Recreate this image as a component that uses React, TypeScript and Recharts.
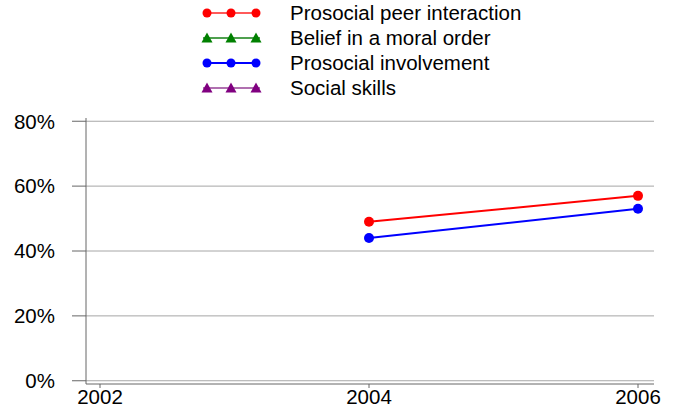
import React from 'react'
import {
  LineChart,
  Line,
  XAxis,
  YAxis,
  CartesianGrid
} from 'recharts'

const years = [2002, 2004, 2006]
const peerInteraction = [null, 49, 57]
const moralOrder = [null, null, null]
const involvement = [null, 44, 53]
const socialSkills = [null, null, null]
const yTicks = [0, 20, 40, 60, 80]

const series = [
  { key: 'peer', name: 'Prosocial peer interaction', color: '#ff0000', legendLine: '#ff5a5a', shape: 'circle' },
  { key: 'moral', name: 'Belief in a moral order', color: '#008000', legendLine: '#4fa04f', shape: 'triangle' },
  { key: 'involve', name: 'Prosocial involvement', color: '#0000ff', legendLine: '#0000ff', shape: 'circle' },
  { key: 'social', name: 'Social skills', color: '#800080', legendLine: '#b070b0', shape: 'triangle' }
]

const data = years.map((year, i) => ({
  year,
  peer: peerInteraction[i],
  moral: moralOrder[i],
  involve: involvement[i],
  social: socialSkills[i]
}))

const font = '"Liberation Sans", Arial, sans-serif'

const Marker = ({ x, y, color, shape }: any) => {
  if (shape === 'triangle') {
    return <polygon points={`${x},${y - 5.5} ${x + 5.5},${y + 4.5} ${x - 5.5},${y + 4.5}`} fill={color} />
  }
  return <circle cx={x} cy={y} r={4.5} fill={color} />
}

// legend drawn on its own so it doesn't eat into the plot area
const ChartLegend = () => (
  <svg width={674} height={105} style={{ position: 'absolute', left: 0, top: 0 }}>
    {series.map((s, i) => {
      const y = 13 + i * 25
      return (
        <g key={s.key}>
          <line x1={203} x2={260} y1={y} y2={y} stroke={s.legendLine} strokeWidth={2} />
          {[207, 231, 256].map((x) => (
            <Marker key={x} x={x} y={y} color={s.color} shape={s.shape} />
          ))}
          <text x={290} y={y + 7} fontSize={20.5} fontFamily={font} fill="#000">
            {s.name}
          </text>
        </g>
      )
    })}
  </svg>
)

const Dot = (color: string) => (props: any) => {
  const { cx, cy, value } = props
  if (value == null || cx == null || cy == null) return <g key={props.key} />
  return <circle key={props.key} cx={cx} cy={cy} r={5} fill={color} />
}

export default function App() {
  return (
    <div style={{ position: 'fixed', left: 0, top: 0, width: 674, height: 414, background: '#fff' }}>
      <LineChart
        width={674}
        height={414}
        data={data}
        margin={{ top: 118, right: 20, bottom: 0, left: 0 }}
      >
        <CartesianGrid
          vertical={false}
          stroke="#a6a6a6"
          strokeWidth={1}
          horizontalValues={yTicks}
        />
        <XAxis
          dataKey="year"
          type="number"
          domain={[2002, 2006]}
          ticks={years}
          padding={{ left: 14, right: 16 }}
          height={30}
          stroke="#666"
          tickSize={4}
          tickMargin={1}
          tick={{ fill: '#000', fontSize: 20.5, fontFamily: font }}
        />
        <YAxis
          type="number"
          domain={[-1, 81]}
          ticks={yTicks}
          width={86}
          stroke="#666"
          tickSize={14}
          tickMargin={17}
          tickFormatter={(v: number) => `${v}%`}
          tick={{ fill: '#000', fontSize: 20.5, fontFamily: font }}
        />
        {series.map((s) => (
          <Line
            key={s.key}
            dataKey={s.key}
            name={s.name}
            stroke={s.color}
            strokeWidth={2}
            dot={Dot(s.color)}
            activeDot={false}
            connectNulls={false}
            isAnimationActive={false}
          />
        ))}
      </LineChart>
      <ChartLegend />
    </div>
  )
}
